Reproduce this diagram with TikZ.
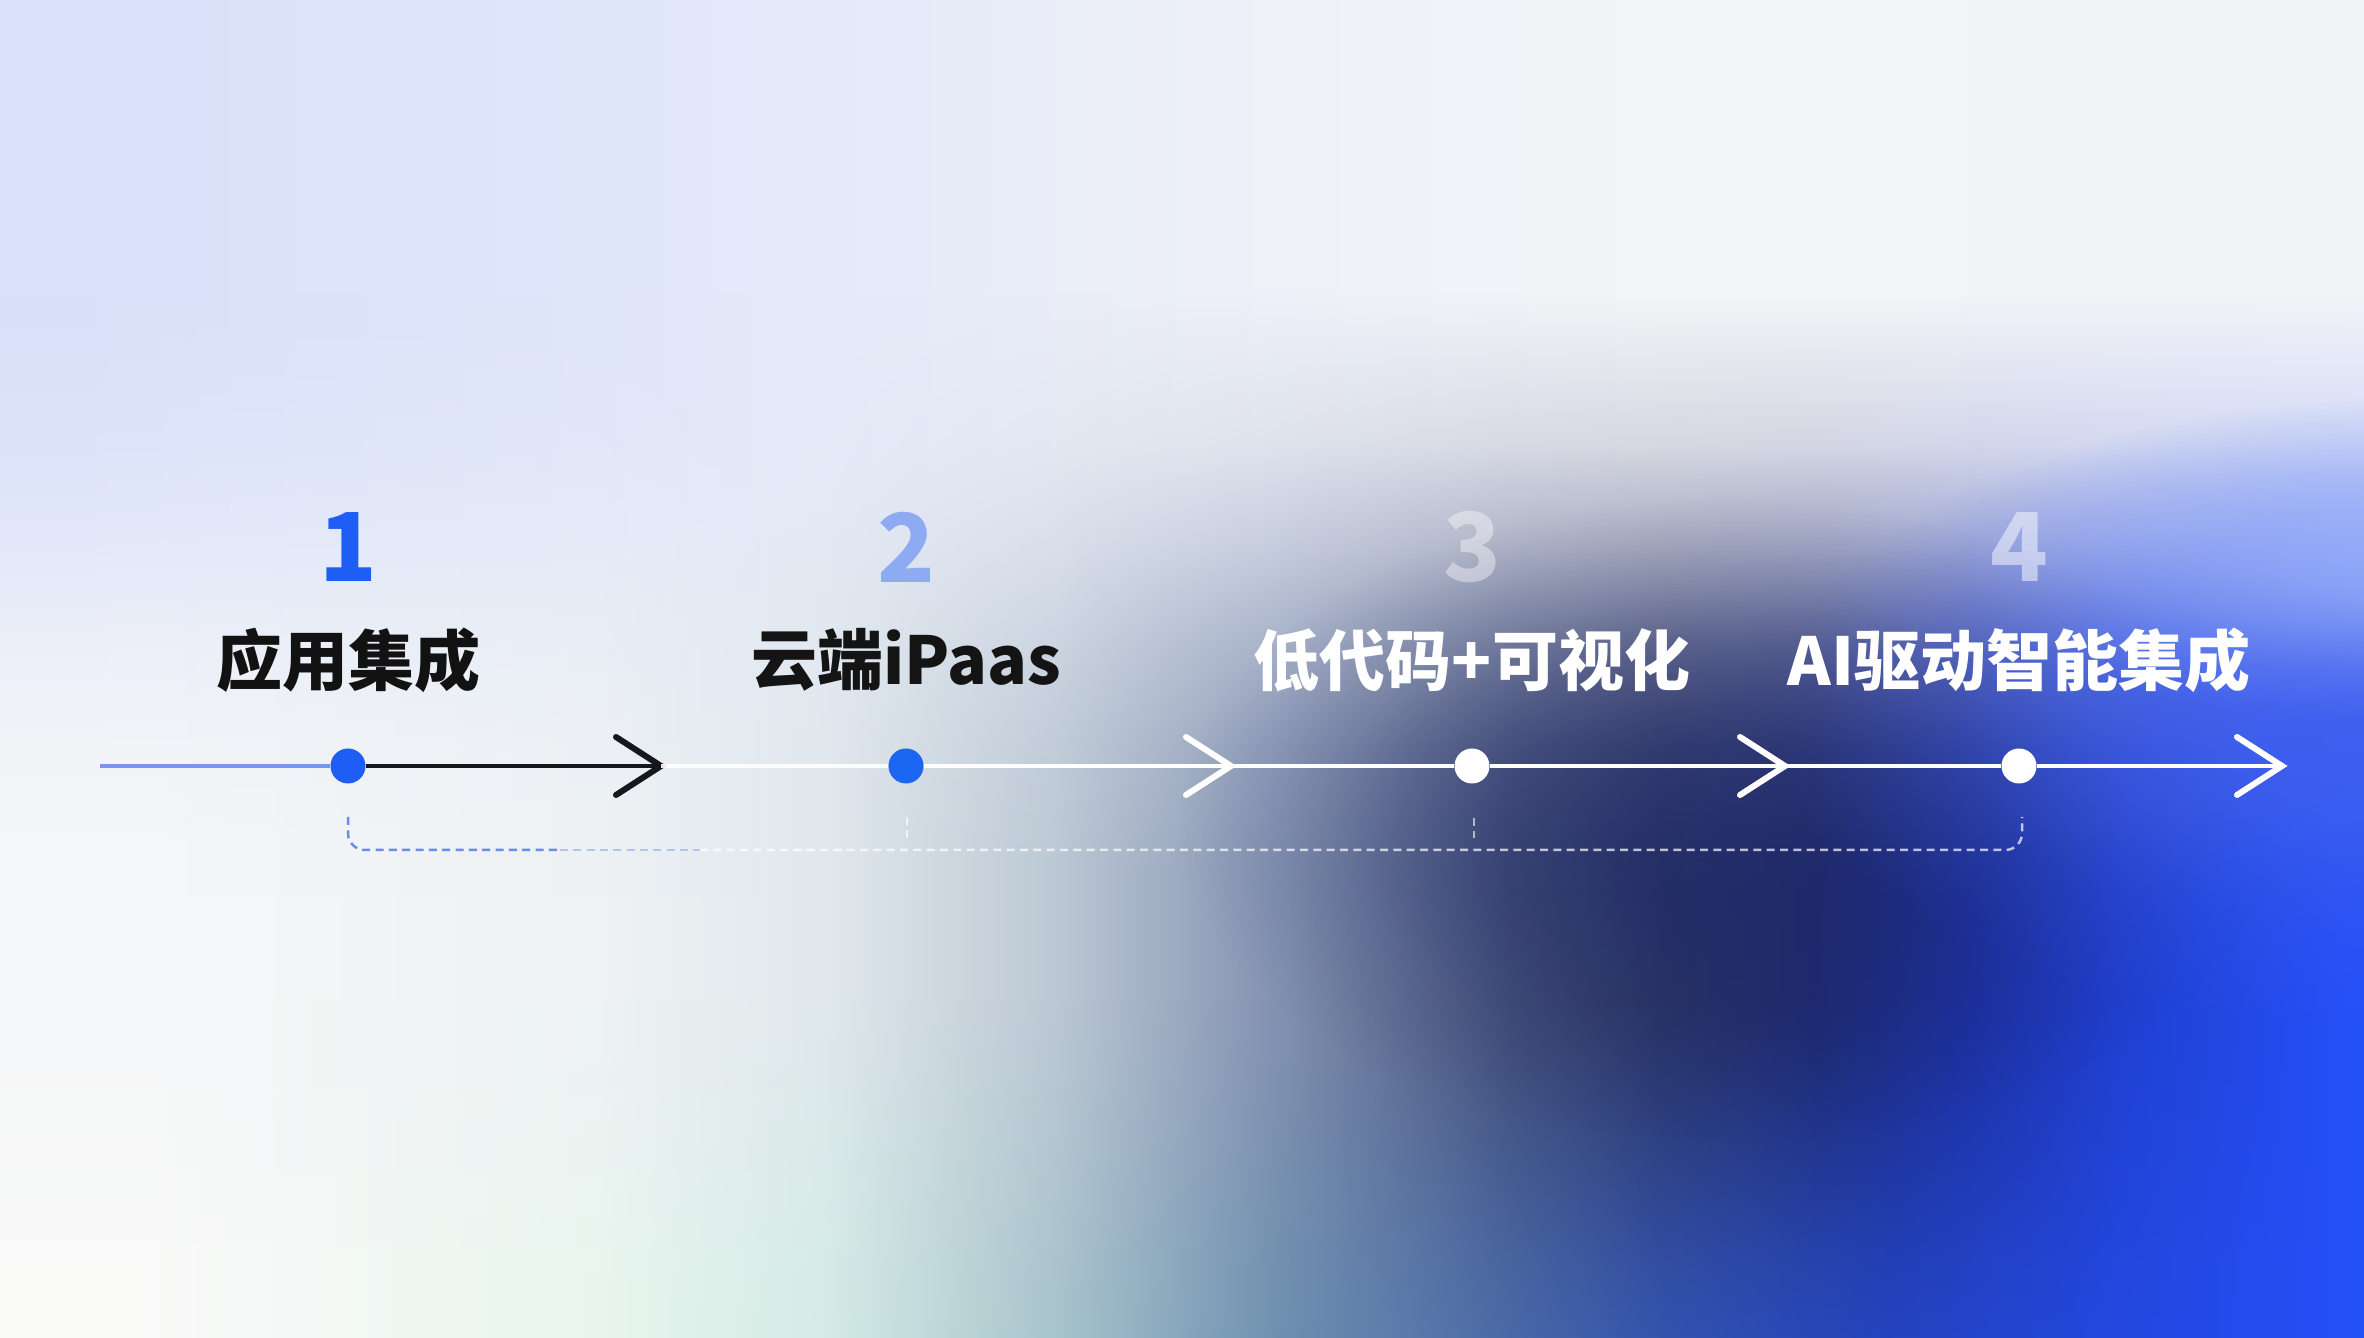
\documentclass[tikz,border=0pt]{standalone}
\usepackage{fontspec}
\newfontfamily\cjk{Noto Sans CJK SC}
\usetikzlibrary{fadings}

% middle (main) background colours, left to right
\definecolor{m0}{HTML}{F6F7F8}
\definecolor{m1}{HTML}{EEF2F4}
\definecolor{m2}{HTML}{E0E8EC}
\definecolor{m3}{HTML}{BCC8D4}
\definecolor{m4}{HTML}{8290B0}
\definecolor{m5}{HTML}{424E78}
\definecolor{m6}{HTML}{2A3464}
\definecolor{m7}{HTML}{1E2A70}
\definecolor{m8}{HTML}{1C30A0}
\definecolor{m9}{HTML}{2040D0}
\definecolor{m10}{HTML}{2450F8}
% top overlay colours
\definecolor{t0}{HTML}{D8E0FA}
\definecolor{t1}{HTML}{E0E6FA}
\definecolor{t2}{HTML}{EDF0F8}
\definecolor{t3}{HTML}{F4F5F8}
\definecolor{t4}{HTML}{F3F4F8}
% bottom band colours
\definecolor{u0}{HTML}{FBFBFA}
\definecolor{u1}{HTML}{E8F6EE}
\definecolor{u2}{HTML}{D4ECE6}
\definecolor{u3}{HTML}{A8C4CC}
\definecolor{u4}{HTML}{6E90B0}
\definecolor{u5}{HTML}{4A6AA8}
\definecolor{u6}{HTML}{3454B0}
\definecolor{u7}{HTML}{2444C0}
\definecolor{u8}{HTML}{2448E0}
\definecolor{u9}{HTML}{2550F8}
% elements
\definecolor{cBlueA}{HTML}{1E5EF5}
\definecolor{cBlueB}{HTML}{1A66F0}
\definecolor{cTwo}{HTML}{8EAAF2}
\definecolor{cLineBlue}{HTML}{7896F0}
\definecolor{cDark}{HTML}{16161C}
\definecolor{cDashBlue}{HTML}{6A8AF0}
\definecolor{cDashMid}{HTML}{B4C2F2}
\definecolor{cRightBlue}{HTML}{3E5EEE}
\definecolor{cSky}{HTML}{A2B8FA}
\definecolor{cNavy}{HTML}{1E2868}

\pgfdeclarehorizontalshading{bgmid}{100bp}{color(0bp)=(m0); color(28.19bp)=(m0); color(37.75bp)=(m1); color(42.55bp)=(m2); color(47.34bp)=(m3); color(52.11bp)=(m4); color(56.90bp)=(m5); color(60.09bp)=(m6); color(63.28bp)=(m7); color(66.46bp)=(m8); color(69.65bp)=(m9); color(74.45bp)=(m10); color(100bp)=(m10)}
\pgfdeclarehorizontalshading{bgtop}{100bp}{color(0bp)=(t0); color(26.59bp)=(t0); color(37.75bp)=(t1); color(50.51bp)=(t2); color(60.09bp)=(t3); color(72.84bp)=(t4); color(100bp)=(t4)}
\pgfdeclarehorizontalshading{bgbot}{100bp}{color(0bp)=(u0); color(28.19bp)=(u0); color(37.75bp)=(u1); color(42.55bp)=(u2); color(47.34bp)=(u3); color(52.11bp)=(u4); color(56.90bp)=(u5); color(60.09bp)=(u6); color(64.87bp)=(u7); color(69.65bp)=(u8); color(74.45bp)=(u9); color(100bp)=(u9)}

% vertical fading for the top overlay (opaque at top)
\pgfdeclareverticalshading{vtopsh}{100bp}{color(0bp)=(black); color(25bp)=(black); color(27.78bp)=(white!2!black); color(33.33bp)=(white!12!black); color(38.89bp)=(white!33!black); color(44.44bp)=(white!62!black); color(50bp)=(white!85!black); color(58.33bp)=(white); color(100bp)=(white)}
\pgfdeclarefading{vtop}{\pgfuseshading{vtopsh}}
% vertical fading for the bottom band (opaque at bottom)
\pgfdeclareverticalshading{vbotsh}{100bp}{color(0bp)=(white); color(25bp)=(white); color(38bp)=(white!80!black); color(52.8bp)=(white!45!black); color(67.6bp)=(white!12!black); color(75bp)=(black); color(100bp)=(black)}
\pgfdeclarefading{vbot}{\pgfuseshading{vbotsh}}
% soft round blob (falls to zero well inside the path)
\pgfdeclareradialshading{blobsh}{\pgfpoint{0bp}{0bp}}{color(0bp)=(white); color(3bp)=(white!85!black); color(6bp)=(white!55!black); color(9bp)=(white!22!black); color(12.5bp)=(black); color(50bp)=(black)}
\pgfdeclarefading{blob}{\pgfuseshading{blobsh}}

\tikzset{
  dot/.style={circle, inner sep=0pt, minimum size=10.5pt, draw=none},
  ln/.style={line width=1.2pt},
  chev/.style={line width=1.8pt, line cap=round, line join=miter},
  dsh/.style={line width=0.75pt, dash pattern=on 2.4pt off 1.6pt},
  num/.style={font=\cjk\bfseries\fontsize{28.5pt}{30pt}\selectfont, inner sep=0pt},
  lab/.style={font=\cjk\bfseries\fontsize{19.8pt}{22pt}\selectfont, inner sep=0pt},
}

\begin{document}
\begin{tikzpicture}[x=0.3pt, y=-0.3pt]
\useasboundingbox (0,0) rectangle (2364,1338);
% ---------- background ----------
\shade[shading=bgmid] (-12,-12) rectangle (2376,1350);
\shade[shading=bgbot, path fading=vbot] (-12,1000) rectangle (2376,1350);
\shade[shading=bgtop, path fading=vtop] (-12,-12) rectangle (2376,900);
\fill[cNavy, path fading=blob, opacity=0.55] (1730,820) ellipse [x radius=1100, y radius=640];
\fill[cRightBlue, path fading=blob, opacity=0.9] (2420,720) ellipse [x radius=1300, y radius=640];
\fill[cSky, path fading=blob, opacity=0.7] (2400,560) ellipse [x radius=900, y radius=320];

% ---------- timeline ----------
\coordinate (s0) at (100,766);
\node[dot, fill=cBlueA] (d1) at (348,766) {};
\coordinate (a1) at (661,766);
\node[dot, fill=cBlueB] (d2) at (906,766) {};
\coordinate (a2) at (1231,766);
\node[dot, fill=white] (d3) at (1472,766) {};
\coordinate (a3) at (1785,766);
\node[dot, fill=white] (d4) at (2019,766) {};
\coordinate (a4) at (2282,766);

\draw[ln, cLineBlue] (s0) -- (d1);
\draw[ln, cDark] (d1) -- (a1);
\draw[chev, cDark] (a1) ++(-45,-29) -- (a1) -- ++(-45,29);
\draw[ln, white, opacity=0.9] (a1) -- (d2);
\draw[ln, white] (d2) -- (a2);
\draw[chev, white] (a2) ++(-45,-29) -- (a2) -- ++(-45,29);
\draw[ln, white] (a2) -- (d3);
\draw[ln, white] (d3) -- (a3);
\draw[chev, white] (a3) ++(-45,-29) -- (a3) -- ++(-45,29);
\draw[ln, white] (a3) -- (d4);
\draw[ln, white] (d4) -- (a4);
\draw[chev, white] (a4) ++(-45,-29) -- (a4) -- ++(-45,29);

% ---------- dashed bracket ----------
\coordinate (b1) at (348,817);
\coordinate (m1) at (560,850);
\coordinate (m2) at (700,850);
\coordinate (b4) at (2022,817);
\coordinate (t2a) at (907,817);
\coordinate (t2b) at (907,842);
\coordinate (t3a) at (1474,818);
\coordinate (t3b) at (1474,838);
\draw[dsh, cDashBlue, rounded corners=5] (b1) |- (m1);
\draw[dsh, cDashMid] (m1) -- (m2);
\draw[dsh, white, opacity=0.7, rounded corners=5] (m2) -| (b4);
\draw[dsh, white, opacity=0.7] (t2a) -- (t2b);
\draw[dsh, white, opacity=0.6] (t3a) -- (t3b);

% ---------- numbers ----------
\node[num, text=cBlueA] (n1) at (348,547) {1};
\node[num, text=cTwo] (n2) at (906,547) {2};
\node[num, text=white, text opacity=0.4] (n3) at (1472,547) {3};
\node[num, text=white, text opacity=0.5] (n4) at (2019,547) {4};

% ---------- labels ----------
\node[lab, text=black!93] (l1) at (348,660) {应用集成};
\node[lab, text=black!92] (l2) at (906,660) {云端iPaas};
\node[lab, text=white] (l3) at (1472,660) {低代码+可视化};
\node[lab, text=white] (l4) at (2019,660) {AI驱动智能集成};
\end{tikzpicture}
\end{document}
